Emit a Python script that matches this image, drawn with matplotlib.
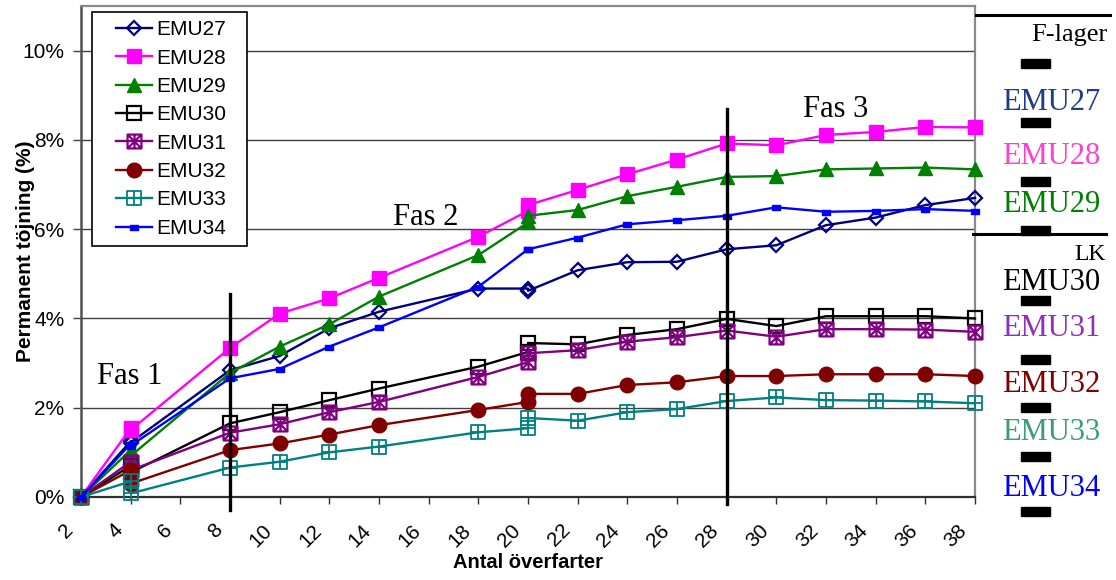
import matplotlib
matplotlib.use("Agg")
import matplotlib.pyplot as plt
from matplotlib.path import Path
from matplotlib.lines import Line2D
from matplotlib.patches import Rectangle
from matplotlib.ticker import FuncFormatter, MultipleLocator
from matplotlib.transforms import ScaledTranslation
from matplotlib.legend_handler import HandlerLine2D

plt.rcParams['font.family'] = ['Liberation Sans', 'DejaVu Sans']
plt.rcParams['xtick.labelsize'] = 15
plt.rcParams['ytick.labelsize'] = 15

# ================================
# Data (permanent töjning i %)
# ================================
overfarter = [2, 4, 4, 8, 10, 12, 14, 18, 20, 20, 22, 24, 26, 28, 30, 32, 34, 36, 38]

emu27 = [0, 1.25, 1.22, 2.84, 3.16, 3.78, 4.15, 4.67, 4.67, 4.62, 5.08, 5.26, 5.27, 5.55, 5.64, 6.09, 6.26, 6.54, 6.70]
emu28 = [0, 1.54, 1.50, 3.34, 4.11, 4.45, 4.91, 5.83, 6.41, 6.54, 6.88, 7.23, 7.56, 7.92, 7.88, 8.11, 8.18, 8.29, 8.28]
emu29 = [0, 1.05, 0.92, 2.78, 3.37, 3.87, 4.49, 5.42, 6.15, 6.30, 6.43, 6.74, 6.95, 7.17, 7.19, 7.34, 7.36, 7.38, 7.34]
emu30 = [0, 0.70, 0.55, 1.65, 1.90, 2.17, 2.43, 2.92, 3.25, 3.45, 3.42, 3.63, 3.76, 3.99, 3.83, 4.05, 4.05, 4.05, 4.00]
emu31 = [0, 0.79, 0.60, 1.44, 1.63, 1.90, 2.13, 2.69, 3.02, 3.22, 3.29, 3.48, 3.58, 3.73, 3.59, 3.76, 3.76, 3.75, 3.70]
emu32 = [0, 0.60, 0.30, 1.05, 1.20, 1.40, 1.61, 1.95, 2.13, 2.31, 2.31, 2.51, 2.57, 2.71, 2.71, 2.75, 2.75, 2.75, 2.71]
emu33 = [0, 0.35, 0.08, 0.66, 0.79, 1.00, 1.13, 1.45, 1.54, 1.77, 1.71, 1.90, 1.97, 2.15, 2.23, 2.17, 2.16, 2.14, 2.10]
emu34 = [0, 1.19, 1.15, 2.66, 2.87, 3.37, 3.80, 4.71, 5.55, 5.55, 5.81, 6.11, 6.20, 6.30, 6.49, 6.39, 6.41, 6.45, 6.41]

serier = ["EMU27", "EMU28", "EMU29", "EMU30", "EMU31", "EMU32", "EMU33", "EMU34"]
varden = [emu27, emu28, emu29, emu30, emu31, emu32, emu33, emu34]

fas_granser = [8, 28]
fas_namn = ["Fas 1", "Fas 2", "Fas 3"]
fas_x = [3.97, 15.9, 32.4]
fas_y = [2.71, 6.27, 8.69]

# ================================
# Markörer
# ================================
M, L, C = Path.MOVETO, Path.LINETO, Path.CLOSEPOLY
ruta_stjarna = Path(
    [(-1, -1), (1, -1), (1, 1), (-1, 1), (-1, -1),
     (-1, -1), (1, 1), (-1, 1), (1, -1), (0, -1), (0, 1)],
    [M, L, L, L, C, M, L, M, L, M, L])
ruta_plus = Path(
    [(-1, -1), (1, -1), (1, 1), (-1, 1), (-1, -1),
     (-1, 0), (1, 0), (0, -1), (0, 1)],
    [M, L, L, L, C, M, L, M, L])
streck = Path([(-1, -0.6), (1, -0.6), (1, 0.6), (-1, 0.6), (-1, -0.6)],
              [M, L, L, L, C])

stil = {
    "EMU27": dict(color="#000080", marker="D", ms=7.5, mfc="none", mew=1.6),
    "EMU28": dict(color="#FF00FF", marker="s", ms=9.5, mfc="#FF00FF", mew=1),
    "EMU29": dict(color="#008000", marker="^", ms=10.5, mfc="#008000", mew=1),
    "EMU30": dict(color="#000000", marker="s", ms=9.5, mfc="none", mew=1.6),
    "EMU31": dict(color="#800080", marker=ruta_stjarna, ms=10, mfc="none", mew=1.6),
    "EMU32": dict(color="#800000", marker="o", ms=10.5, mfc="#800000", mew=1),
    "EMU33": dict(color="#008080", marker=ruta_plus, ms=10, mfc="none", mew=1.3),
    "EMU34": dict(color="#0000FF", marker=streck, ms=6, mfc="#0000FF", mew=1),
}

# ================================
# Figur
# ================================
W, H = 1116, 580
fig = plt.figure(figsize=(W / 100, H / 100), dpi=100)
ax = fig.add_axes([81 / W, 1 - 497 / H, 894 / W, 491 / H])

for namn, y in zip(serier, varden):
    ax.plot(overfarter, y, lw=1.7, label=namn, zorder=3, clip_on=False, **stil[namn])

ax.set_xlim(2, 38)
ax.set_ylim(0, 11)
ax.xaxis.set_major_locator(MultipleLocator(2))
ax.yaxis.set_major_locator(MultipleLocator(2))
ax.yaxis.set_major_formatter(FuncFormatter(lambda v, p: f"{v:.0f}%"))
ax.yaxis.grid(True, color="#404040", lw=1)
ax.set_axisbelow(True)

for s in ["top", "right"]:
    ax.spines[s].set_color("#8a8a8a")
    ax.spines[s].set_linewidth(1.6)
ax.spines["left"].set_color("#505050")
ax.spines["left"].set_linewidth(1.8)
ax.spines["bottom"].set_color("#303030")
ax.spines["bottom"].set_linewidth(1.6)

ax.tick_params(axis="y", direction="out", length=6, width=1, pad=6, labelsize=15, color="#404040")
ax.tick_params(axis="x", direction="out", length=5, width=1, pad=12, labelsize=15, color="#303030")
for lab in ax.get_xticklabels():
    lab.set_rotation(45)
    lab.set_ha("right")
    lab.set_va("top")
    lab.set_transform(lab.get_transform() + ScaledTranslation(-0.04, 0, fig.dpi_scale_trans))

ax.set_xlabel("Antal överfarter", fontsize=14.5, fontweight="bold")
ax.xaxis.set_label_coords(0.5, -0.115)
ax.set_ylabel("Permanent töjning (%)", fontsize=15, fontweight="bold")
ax.yaxis.set_label_coords(-0.052, 0.5)

# fasgränser och fastext
ax.plot([fas_granser[0]] * 2, [-0.29, 4.55], color="black", lw=2.4, zorder=5, clip_on=False)
ax.plot([fas_granser[1]] * 2, [-0.16, 8.69], color="black", lw=2.4, zorder=5, clip_on=False)
for t, x, y in zip(fas_namn, fas_x, fas_y):
    ax.text(x, y, t, ha="center", va="center", fontsize=22, family="Liberation Serif", zorder=6)

leg = ax.legend(loc="upper left", bbox_to_anchor=(0.0123, 0.5, 0.1734, 0.488), mode="expand",
                borderaxespad=0, fontsize=15, frameon=True, fancybox=False, edgecolor="black",
                framealpha=1, borderpad=0.4, handlelength=2.5, handletextpad=0.2,
                labelspacing=0.45, handler_map={Line2D: HandlerLine2D(xpad=0.75)})
leg.get_frame().set_linewidth(1.2)
leg.set_zorder(10)

# ================================
# Högerkolumn med etiketter
# ================================
def px(x, y):
    return x / W, 1 - y / H

hoger_namn = ["EMU27", "EMU28", "EMU29", "EMU30", "EMU31", "EMU32", "EMU33", "EMU34"]
hoger_farg = ["#1F3C88", "#FF3FCF", "#008000", "#000000", "#8E2FBF", "#800000", "#3A9E74", "#0000FF"]
hoger_y = [103, 157, 205, 283, 328, 384, 432, 488]
streck_y = [63, 122, 181, 230, 300, 359, 407, 456, 511]

for t, c, y in zip(hoger_namn, hoger_farg, hoger_y):
    fig.text(*px(1051, y), t, color=c, ha="center", va="center", fontsize=22, family="Liberation Serif")

fig.text(*px(1107, 35), "F-lager", ha="right", va="center", fontsize=19, family="Liberation Serif")
fig.text(*px(1106, 254), "LK", ha="right", va="center", fontsize=17, family="Liberation Serif")

fig.add_artist(Line2D([976 / W, 1110 / W], [1 - 15 / H] * 2, color="black", lw=2.2))
fig.add_artist(Line2D([973 / W, 1106 / W], [1 - 234 / H] * 2, color="black", lw=2.2))
for y in streck_y:
    fig.add_artist(Rectangle(px(1021, y + 4.5), 29 / W, 9 / H, color="black", transform=fig.transFigure))

fig.savefig("out.png", dpi=100)
